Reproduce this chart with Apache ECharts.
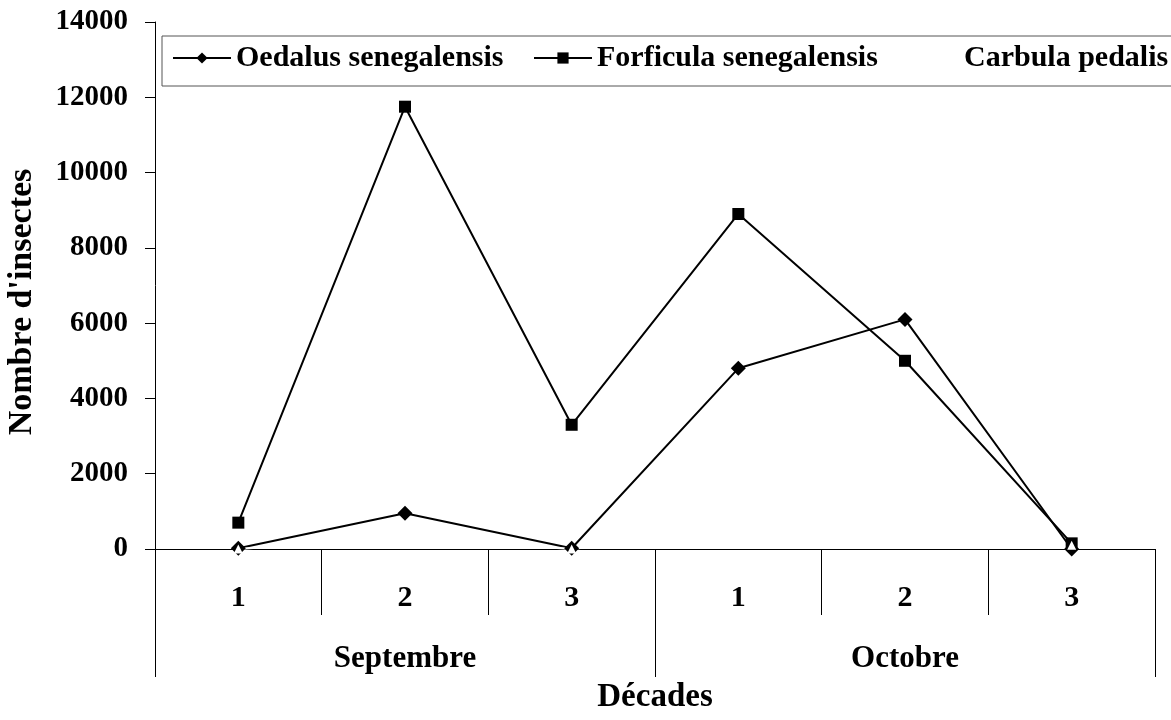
<!DOCTYPE html>
<html>
<head>
<meta charset="utf-8">
<script src="https://cdn.jsdelivr.net/npm/echarts@6/dist/echarts.min.js"></script>
<style>
html,body{margin:0;padding:0;background:#fff;}
#c{width:1171px;height:720px;}
</style>
</head>
<body>
<div id="c"></div>
<script>
const decades = ["1", "2", "3", "1", "2", "3"];
const months = ["Septembre", "Octobre"];
const oedalus = [20, 950, 20, 4800, 6100, 0];
const forficula = [700, 11750, 3300, 8900, 5000, 150];
const carbula = [0, 300, 0, 500, 800, 100];
const yTicks = { min: 0, max: 14000, interval: 2000 };

const FONT = '"Liberation Serif", "Times New Roman", serif';
const chart = echarts.init(document.getElementById('c'), null, { renderer: 'canvas' });

const legendBase = {
  orient: 'horizontal',
  top: 43,
  padding: 0,
  itemWidth: 58,
  itemHeight: 14,
  itemGap: 0,
  selectedMode: false,
  textStyle: { fontFamily: FONT, fontWeight: 'bold', fontSize: 30, color: '#000' }
};

chart.setOption({
  backgroundColor: '#fff',
  animation: false,
  grid: { left: 155, right: 16, top: 22, bottom: 171, containLabel: false, outerBoundsMode: 'none' },
  graphic: [{
    type: 'rect',
    shape: { x: 162, y: 36, width: 1020, height: 50 },
    style: { fill: 'none', stroke: '#555', lineWidth: 1 },
    silent: true
  }, {
    type: 'text',
    x: 22,
    y: 302,
    rotation: Math.PI / 2,
    style: {
      text: "Nombre d'insectes",
      fontFamily: FONT, fontWeight: 'bold', fontSize: 34, fill: '#000',
      align: 'center', verticalAlign: 'middle'
    },
    silent: true
  }],
  legend: [
    Object.assign({}, legendBase, { left: 172, data: ['Oedalus senegalensis'] }),
    Object.assign({}, legendBase, { left: 533, data: ['Forficula senegalensis'] }),
    Object.assign({}, legendBase, { left: 900, data: ['Carbula pedalis'] })
  ],
  xAxis: [{
    type: 'category',
    data: decades,
    position: 'bottom',
    boundaryGap: true,
    axisLine: { show: true, lineStyle: { color: '#000', width: 1 } },
    axisTick: { show: true, length: 66, lineStyle: { color: '#000', width: 1 } },
    axisLabel: { fontFamily: FONT, fontWeight: 'bold', fontSize: 30, color: '#000', margin: 34 },
    name: 'Décades',
    nameLocation: 'middle',
    nameGap: 132,
    nameTextStyle: { fontFamily: FONT, fontWeight: 'bold', fontSize: 33, color: '#000' }
  }, {
    type: 'category',
    data: months,
    position: 'bottom',
    offset: 0,
    boundaryGap: true,
    axisLine: { show: false },
    axisTick: { show: true, length: 128, lineStyle: { color: '#000', width: 1 } },
    axisLabel: { fontFamily: FONT, fontWeight: 'bold', fontSize: 31, color: '#000', margin: 94 }
  }],
  yAxis: {
    type: 'value',
    min: yTicks.min,
    max: yTicks.max,
    interval: yTicks.interval,
    axisLine: { show: true, lineStyle: { color: '#000', width: 1 } },
    axisTick: { show: true, length: 10, lineStyle: { color: '#000', width: 1 } },
    splitLine: { show: false },
    axisLabel: {
      fontFamily: FONT, fontWeight: 'bold', fontSize: 29, color: '#000', margin: 27,
      formatter: function (v) { return String(v); }
    }
  },
  series: [{
    name: 'Oedalus senegalensis',
    type: 'line',
    data: oedalus,
    xAxisIndex: 0,
    symbol: 'diamond',
    symbolSize: 15,
    lineStyle: { color: '#000', width: 2 },
    itemStyle: { color: '#000' }
  }, {
    name: 'Forficula senegalensis',
    type: 'line',
    data: forficula,
    xAxisIndex: 0,
    symbol: 'rect',
    symbolSize: 12,
    lineStyle: { color: '#000', width: 2 },
    itemStyle: { color: '#000' }
  }, {
    name: 'Carbula pedalis',
    type: 'line',
    data: carbula,
    xAxisIndex: 0,
    symbol: 'triangle',
    symbolSize: 9,
    lineStyle: { color: '#fff', width: 2 },
    itemStyle: { color: '#fff' }
  }]
});
</script>
</body>
</html>
